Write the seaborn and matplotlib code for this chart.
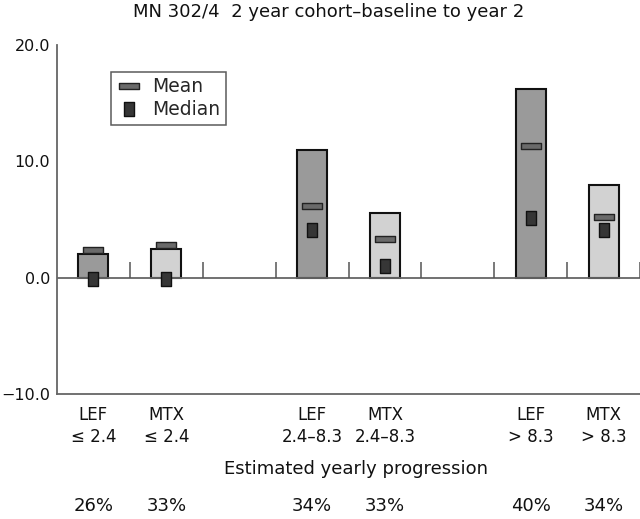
import numpy as np
import pandas as pd
import matplotlib
matplotlib.use("Agg")
import matplotlib.pyplot as plt
from matplotlib.path import Path
from matplotlib.lines import Line2D
import seaborn as sns

# data
positions = [0, 1, 3, 4, 6, 7]
drugs = ["LEF", "MTX", "LEF", "MTX", "LEF", "MTX"]
groups = ["\u2264 2.4", "\u2264 2.4", "2.4\u20138.3", "2.4\u20138.3", "> 8.3", "> 8.3"]
bar_top = [2.0, 2.5, 11.0, 5.6, 16.2, 8.0]
means = [2.4, 2.8, 6.2, 3.3, 11.3, 5.2]
medians = [-0.1, -0.1, 4.1, 1.0, 5.1, 4.1]
progression = ["26%", "33%", "34%", "33%", "40%", "34%"]

df = pd.DataFrame({"pos": positions, "drug": drugs, "top": bar_top,
                   "mean": means, "median": medians})

sns.set_theme(style="white")
plt.rcParams["font.family"] = ["DejaVu Sans"]

fig = plt.figure(figsize=(6.4, 5.19), dpi=100)
ax = fig.add_axes([57 / 640, 125 / 519, 583 / 640, 349 / 519])

palette = {"LEF": "#9a9a9a", "MTX": "#d2d2d2"}
sns.barplot(data=df, x="pos", y="top", hue="drug", palette=palette, native_scale=True,
            dodge=False, width=0.41, edgecolor="#111111", linewidth=1.5, legend=False, ax=ax)

mean_marker = Path([(-0.5, -0.17), (0.5, -0.17), (0.5, 0.17), (-0.5, 0.17), (-0.5, -0.17)],
                   [Path.MOVETO, Path.LINETO, Path.LINETO, Path.LINETO, Path.CLOSEPOLY])
median_marker = Path([(-0.36, -0.5), (0.36, -0.5), (0.36, 0.5), (-0.36, 0.5), (-0.36, -0.5)],
                     [Path.MOVETO, Path.LINETO, Path.LINETO, Path.LINETO, Path.CLOSEPOLY])

sns.scatterplot(data=df, x="pos", y="mean", marker=mean_marker, s=200, color="#6a6a6a",
                edgecolor="#222222", linewidth=1.0, zorder=4, ax=ax)
sns.scatterplot(data=df, x="pos", y="median", marker=median_marker, s=95, color="#363636",
                edgecolor="#111111", linewidth=1.0, zorder=5, ax=ax)

ax.axhline(0, color="#666666", lw=1.3, zorder=1)
ax.vlines(np.arange(0.5, 8, 1), 0, 1.35, color="#555555", lw=1.1, zorder=1)

ax.set_xlim(-0.5, 7.5)
ax.set_ylim(-10, 20)
ax.set_yticks([-10, 0, 10, 20])
ax.set_yticklabels([f"{v:.1f}".replace("-", "\u2212") for v in [-10, 0, 10, 20]], fontsize=11.5)
ax.tick_params(axis="y", direction="in", length=11, width=1.1, color="#555555", pad=5,
               labelcolor="#111111")
ax.set_xticks(positions)
ax.set_xticklabels([f"{d}\n{g}" for d, g in zip(drugs, groups)], fontsize=12,
                   linespacing=1.25, color="#111111")
ax.tick_params(axis="x", length=0, pad=9)
ax.set_xlabel("")
ax.set_ylabel("")

for side in ["top", "right"]:
    ax.spines[side].set_visible(False)
for side in ["left", "bottom"]:
    ax.spines[side].set_color("#666666")
    ax.spines[side].set_linewidth(1.3)

trans = ax.get_xaxis_transform()
ax.text(3.6, -0.215, "Estimated yearly progression", transform=trans, ha="center",
        va="center", fontsize=13, color="#111111")
for p, txt in zip(positions, progression):
    ax.text(p, -0.322, txt, transform=trans, ha="center", va="center", fontsize=13,
            color="#111111")

fig.text(0.513, 0.977, "MN 302/4  2 year cohort\u2013baseline to year 2", ha="center",
         va="center", fontsize=13, color="#111111")

handles = [
    Line2D([], [], linestyle="none", marker=mean_marker, markersize=14,
           markerfacecolor="#6a6a6a", markeredgecolor="#222222", markeredgewidth=1.0),
    Line2D([], [], linestyle="none", marker=median_marker, markersize=10,
           markerfacecolor="#363636", markeredgecolor="#111111", markeredgewidth=1.0),
]
leg = ax.legend(handles, ["Mean", "Median"], loc="upper left", bbox_to_anchor=(0.093, 0.923),
                borderaxespad=0, fontsize=13.5, frameon=True, fancybox=False, handlelength=1.3,
                handletextpad=0.6, borderpad=0.3, labelspacing=0.2)
leg.get_frame().set_edgecolor("#333333")
leg.get_frame().set_linewidth(1.1)

fig.savefig("out.png", dpi=100)
